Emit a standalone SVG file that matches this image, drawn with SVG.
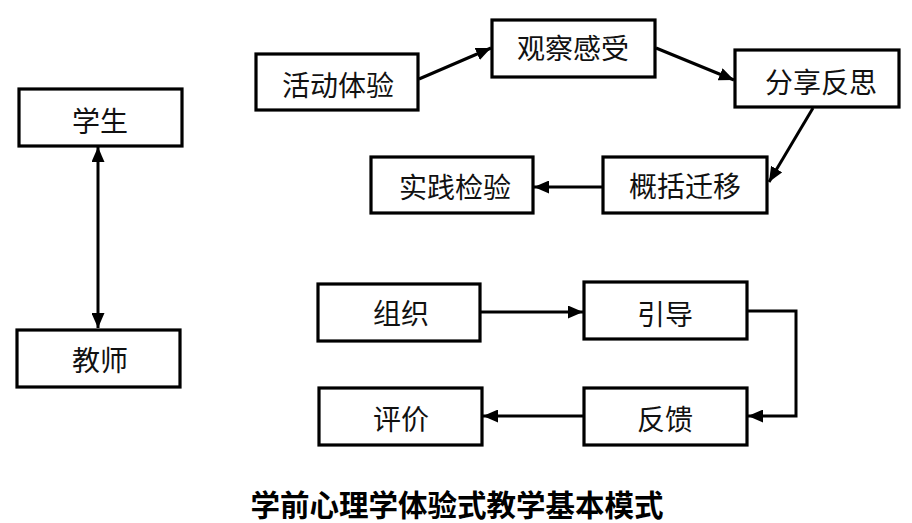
<svg xmlns="http://www.w3.org/2000/svg" width="912" height="523" viewBox="0 0 912 523">
<defs>
<style>
.box{fill:#fff;stroke:#000;stroke-width:3.2}
.lbl{font-family:"Noto Sans CJK SC","Noto Sans CJK JP",sans-serif;font-size:28px;font-weight:400;fill:#111;text-anchor:middle}
.con{fill:none;stroke:#000;stroke-width:3}
.title{font-family:"Noto Sans CJK SC",sans-serif;font-size:29.5px;font-weight:700;fill:#000;text-anchor:middle}
</style>
<marker id="ah" viewBox="0 0 15 13" refX="15" refY="6.5" markerWidth="15" markerHeight="13" markerUnits="userSpaceOnUse" orient="auto-start-reverse">
<path d="M0,0 L15,6.5 L0,13 Z" fill="#000"/>
</marker>
</defs>
<rect width="912" height="523" fill="#fff"/>
<g id="connectors">
<line class="con" x1="98" y1="147" x2="98" y2="328" marker-start="url(#ah)" marker-end="url(#ah)"/>
<line class="con" x1="419" y1="79" x2="491" y2="48" marker-end="url(#ah)"/>
<line class="con" x1="656" y1="48" x2="734" y2="80" marker-end="url(#ah)"/>
<line class="con" x1="813" y1="108" x2="769" y2="182" marker-end="url(#ah)"/>
<line class="con" x1="603" y1="187" x2="534" y2="187" marker-end="url(#ah)"/>
<line class="con" x1="481" y1="312" x2="583" y2="312" marker-end="url(#ah)"/>
<polyline class="con" points="748,311 796,311 796,416 748,416" marker-end="url(#ah)"/>
<line class="con" x1="584" y1="416" x2="483" y2="416" marker-end="url(#ah)"/>
</g>
<g id="n-student"><rect class="box" x="19" y="89" width="163" height="57"/><text class="lbl" x="100" y="132">学生</text></g>
<g id="n-teacher"><rect class="box" x="17" y="330" width="163" height="57"/><text class="lbl" x="100" y="371">教师</text></g>
<g id="n-huodong"><rect class="box" x="256" y="54" width="162" height="56"/><text class="lbl" x="338" y="96">活动体验</text></g>
<g id="n-guancha"><rect class="box" x="492" y="20" width="163" height="57"/><text class="lbl" x="573" y="59">观察感受</text></g>
<g id="n-fenxiang"><rect class="box" x="735" y="50" width="164" height="57"/><text class="lbl" x="821" y="93">分享反思</text></g>
<g id="n-gaikuo"><rect class="box" x="603" y="157" width="164" height="56"/><text class="lbl" x="685" y="197">概括迁移</text></g>
<g id="n-shijian"><rect class="box" x="371" y="157" width="162" height="56"/><text class="lbl" x="455" y="198">实践检验</text></g>
<g id="n-zuzhi"><rect class="box" x="318" y="284" width="162" height="57"/><text class="lbl" x="401" y="324">组织</text></g>
<g id="n-yindao"><rect class="box" x="584" y="282" width="163" height="57"/><text class="lbl" x="665" y="325">引导</text></g>
<g id="n-pingjia"><rect class="box" x="319" y="388" width="163" height="57"/><text class="lbl" x="401" y="430">评价</text></g>
<g id="n-fankui"><rect class="box" x="584" y="388" width="163" height="57"/><text class="lbl" x="665" y="430">反馈</text></g>
<text class="title" x="457" y="516">学前心理学体验式教学基本模式</text>
</svg>
